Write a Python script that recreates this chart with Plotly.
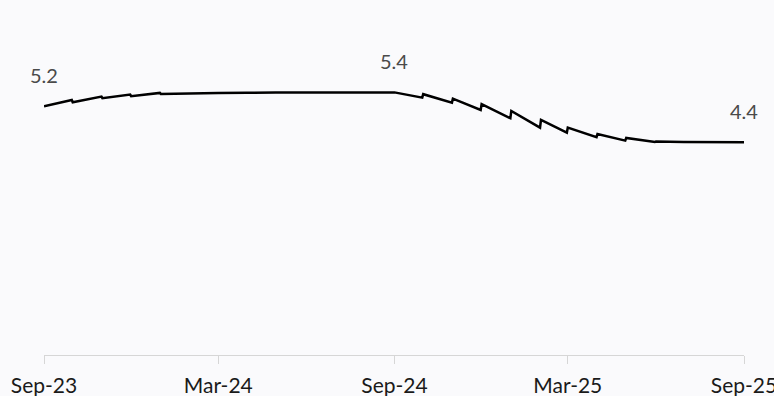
import pandas as pd
import plotly.graph_objects as go

# Monthly segments: value on the first day and on the last day of each month
months = pd.date_range("2023-09-01", "2025-08-01", freq="MS")
month_open = [5.16, 5.243, 5.323, 5.363, 5.410, 5.418, 5.428, 5.432,
              5.436, 5.437, 5.437, 5.436, 5.440, 5.404, 5.315, 5.203,
              5.068, 4.888, 4.733, 4.606, 4.526, 4.452, 4.446, 4.444]
month_close = [5.289, 5.355, 5.396, 5.430, 5.424, 5.430, 5.434, 5.436,
               5.438, 5.438, 5.436, 5.425, 5.335, 5.235, 5.088, 4.922,
               4.733, 4.633, 4.540, 4.472, 4.446, 4.446, 4.444, 4.442]
final_date = pd.Timestamp("2025-09-01")
final_value = 4.44

tick_dates = ["2023-09-01", "2024-03-01", "2024-09-01", "2025-03-01", "2025-09-01"]
tick_labels = ["Sep-23", "Mar-24", "Sep-24", "Mar-25", "Sep-25"]

# Dates whose values are written above the line
labelled_dates = [pd.Timestamp("2023-09-01"), pd.Timestamp("2024-09-01"), final_date]

xs, ys = [], []
for m, o, c in zip(months, month_open, month_close):
    xs += [m, m + pd.offsets.MonthEnd(0)]
    ys += [o, c]
xs.append(final_date)
ys.append(final_value)

lookup = dict(zip(xs, ys))

fig = go.Figure()
fig.add_trace(go.Scatter(
    x=xs, y=ys, mode="lines",
    line=dict(color="#000000", width=2.5),
    hoverinfo="skip", showlegend=False,
))

for d in labelled_dates:
    v = lookup[d]
    fig.add_annotation(
        x=d, y=v, text=f"{v:.1f}", showarrow=False, yshift=31,
        font=dict(family="Lato", size=20, color="#4a4a4a"),
    )

fig.update_layout(
    width=774, height=396,
    margin=dict(l=44, r=30, t=60, b=41, autoexpand=False),
    paper_bgcolor="#fafafc", plot_bgcolor="#fafafc",
    font=dict(family="Lato", color="#1a1a1a"),
    xaxis=dict(
        range=["2023-09-01", "2025-09-01"],
        tickvals=tick_dates, ticktext=tick_labels,
        showgrid=False, zeroline=False, automargin=False,
        showline=True, linecolor="#d6d6d6", linewidth=1,
        ticks="outside", ticklen=8, tickcolor="#d6d6d6", tickwidth=1,
        tickfont=dict(family="Lato", size=21, color="#1a1a1a"),
        ticklabelstandoff=4, ticklabeloverflow="allow",
    ),
    yaxis=dict(visible=False, range=[0.17, 6.09], automargin=False),
)

fig.write_html("out.html")
